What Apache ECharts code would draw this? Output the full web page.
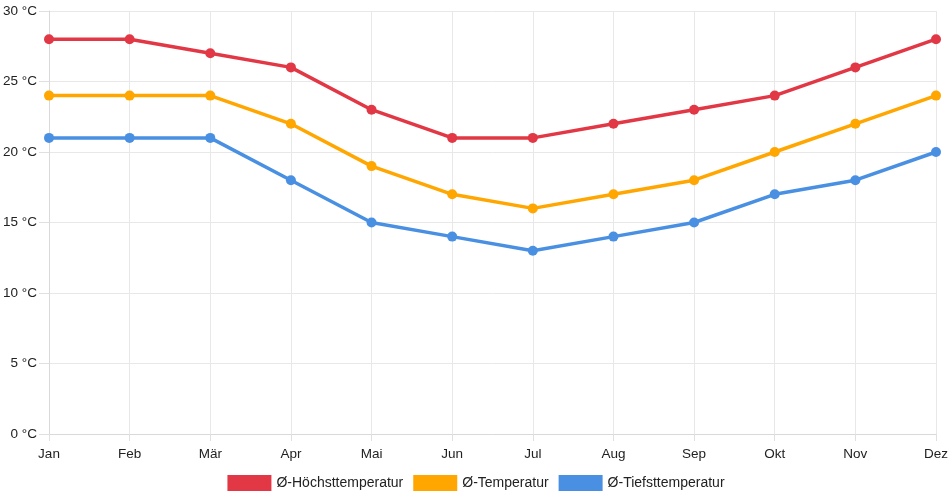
<!DOCTYPE html>
<html>
<head>
<meta charset="utf-8">
<script src="https://cdn.jsdelivr.net/npm/echarts@6/dist/echarts.min.js"></script>
<style>
  html, body { margin: 0; padding: 0; background: #fff; }
  #chart { width: 952px; height: 500px; }
</style>
</head>
<body>
<div id="chart"></div>
<script>
const months = ['Jan', 'Feb', 'Mär', 'Apr', 'Mai', 'Jun', 'Jul', 'Aug', 'Sep', 'Okt', 'Nov', 'Dez'];
const highTemps = [28, 28, 27, 26, 23, 21, 21, 22, 23, 24, 26, 28];
const meanTemps = [24, 24, 24, 22, 19, 17, 16, 17, 18, 20, 22, 24];
const lowTemps = [21, 21, 21, 18, 15, 14, 13, 14, 15, 17, 18, 20];

const FONT = "'Liberation Sans', Arial, Helvetica, sans-serif";

const chart = echarts.init(document.getElementById('chart'));

function makeSeries(name, data, color) {
    return {
        name: name,
        type: 'line',
        data: data,
        symbol: 'circle',
        symbolSize: 10,
        lineStyle: { width: 3.5, color: color },
        itemStyle: { color: color },
        emphasis: { disabled: true }
    };
}

chart.setOption({
    animation: false,
    textStyle: { fontFamily: FONT },
    grid: { left: 49, right: 16, top: 11, bottom: 66, containLabel: false },
    legend: {
        bottom: 4,
        left: 'center',
        itemWidth: 44,
        itemHeight: 16,
        itemGap: 10,
        icon: 'rect',
        textStyle: { fontSize: 14, color: '#222', fontFamily: FONT },
        data: ['Ø-Höchsttemperatur', 'Ø-Temperatur', 'Ø-Tiefsttemperatur']
    },
    xAxis: {
        type: 'category',
        data: months,
        boundaryGap: false,
        axisLine: { lineStyle: { color: '#d9d9d9' } },
        axisTick: { show: true, length: 7, lineStyle: { color: '#e0e0e0' } },
        axisLabel: { color: '#222', fontSize: 13.5, margin: 13, fontFamily: FONT },
        splitLine: { show: true, lineStyle: { color: '#e8e8e8' } }
    },
    yAxis: {
        type: 'value',
        min: 0,
        max: 30,
        interval: 5,
        axisLine: { show: true, lineStyle: { color: '#d9d9d9' } },
        axisTick: { show: true, length: 10, lineStyle: { color: '#e0e0e0' } },
        axisLabel: { color: '#222', fontSize: 13.5, margin: 12, fontFamily: FONT, formatter: '{value} °C' },
        splitLine: { show: true, lineStyle: { color: '#e8e8e8' } }
    },
    series: [
        makeSeries('Ø-Höchsttemperatur', highTemps, '#e23846'),
        makeSeries('Ø-Temperatur', meanTemps, '#ffa600'),
        makeSeries('Ø-Tiefsttemperatur', lowTemps, '#4a90e2')
    ]
});
</script>
</body>
</html>
